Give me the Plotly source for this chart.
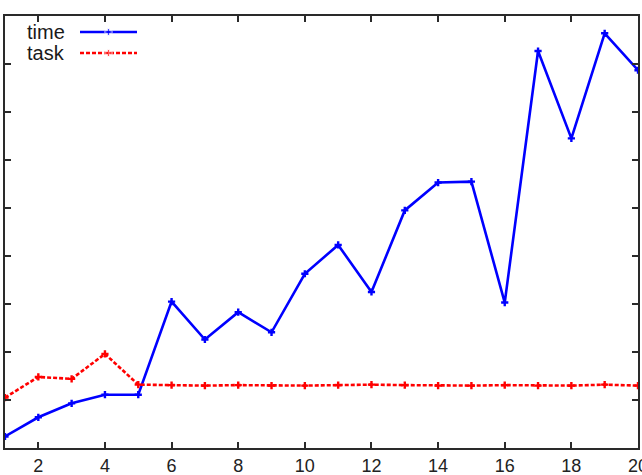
import plotly.graph_objects as go

x_vals = list(range(1, 21))
time_vals = [0.24, 0.64, 0.93, 1.11, 1.11, 3.05, 2.26, 2.83, 2.41, 3.63,
             4.23, 3.25, 4.95, 5.53, 5.55, 3.03, 8.27, 6.45, 8.64, 7.87]
task_vals = [1.05, 1.48, 1.44, 1.96, 1.32, 1.31, 1.30, 1.31, 1.30, 1.30,
             1.31, 1.32, 1.31, 1.30, 1.30, 1.31, 1.30, 1.30, 1.32, 1.30]
x_ticks = [2, 4, 6, 8, 10, 12, 14, 16, 18, 20]
series_names = ["time", "task"]

BLUE = "#0000ff"
RED = "#ff0000"
AX = "#2a2a2a"
FONT = "Liberation Sans, Arial, sans-serif"

fig = go.Figure()
fig.add_trace(go.Scatter(x=x_vals, y=time_vals, mode="lines+markers", name="time",
                         line=dict(color=BLUE, width=2.6),
                         marker=dict(symbol="cross", size=6, color=BLUE),
                         showlegend=False))
fig.add_trace(go.Scatter(x=x_vals, y=task_vals, mode="lines+markers", name="task",
                         line=dict(color=RED, width=2.6, dash="4px,2px"),
                         marker=dict(symbol="cross", size=6, color=RED),
                         showlegend=False))

# legend samples (gnuplot style: text then sample line)
W, H = 633.0, 432.0
x0, x1 = (80 - 5) / W, (137 - 5) / W
ys = [(448.5 - 32.5) / H, (448.5 - 53.5) / H]
for name, col, dash, yy in [("time", BLUE, "solid", ys[0]), ("task", RED, "4px,2px", ys[1])]:
    fig.add_trace(go.Scatter(x=[x0, (x0 + x1) / 2, x1], y=[yy, yy, yy], mode="lines+markers",
                             xaxis="x2", yaxis="y2", showlegend=False, hoverinfo="skip",
                             line=dict(color=col, width=2.6, dash=dash),
                             marker=dict(symbol="cross", size=[0, 6, 0], color=col)))
    fig.add_annotation(x=(67 - 5) / W, y=yy, xref="paper", yref="paper", text=name,
                       showarrow=False, xanchor="right", yanchor="middle",
                       font=dict(family=FONT, size=20, color="#1a1a1a"))

fig.update_layout(
    width=642, height=475,
    margin=dict(l=5, r=4, t=16, b=27, autoexpand=False),
    paper_bgcolor="white", plot_bgcolor="white",
    font=dict(family=FONT, size=14, color="#222"),
    xaxis=dict(range=[1, 20], tickvals=x_ticks, ticks="inside", ticklen=6, tickwidth=1.5,
               tickcolor=AX, showline=True, linecolor=AX, linewidth=2, mirror="ticks",
               showgrid=False, zeroline=False, ticklabeloverflow="allow",
               automargin=False, ticklabelstandoff=0,
               tickfont=dict(size=18, family=FONT, color="#222")),
    yaxis=dict(range=[0, 9], dtick=1, ticks="inside", ticklen=6, tickwidth=1.5,
               tickcolor=AX, showline=True, linecolor=AX, linewidth=2, mirror="ticks",
               showgrid=False, zeroline=False, showticklabels=False, automargin=False),
    xaxis2=dict(overlaying="x", range=[0, 1], visible=False),
    yaxis2=dict(overlaying="y", range=[0, 1], visible=False),
)

fig.write_html("out.html")
